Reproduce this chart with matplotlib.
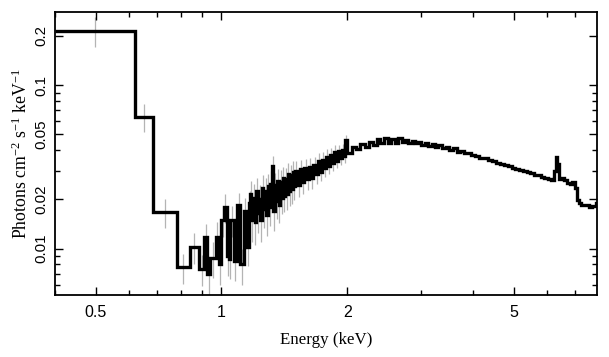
import numpy as np
import matplotlib
matplotlib.use('Agg')
import matplotlib.pyplot as plt
from matplotlib.ticker import FixedLocator, FixedFormatter, LogLocator, NullFormatter

plt.rcParams['mathtext.fontset'] = 'custom'
plt.rcParams['mathtext.rm'] = 'Liberation Serif'
plt.rcParams['mathtext.it'] = 'Liberation Serif:italic'
plt.rcParams['mathtext.default'] = 'rm'

# spectrum bins (keV)
edges_low = [0.40, 0.623, 0.688, 0.781, 0.839, 0.886, 0.911, 0.926]
vals_low = [0.215, 0.064, 0.0167, 0.0077, 0.0102, 0.0075, 0.0117]
errs_low = [0.045, 0.0125, 0.0034, 0.0016, 0.0022, 0.0016, 0.0025]

edges_b = [0.941, 0.968, 0.985, 1.000, 1.012, 1.032, 1.042, 1.051, 1.070,
           1.090, 1.110, 1.130, 1.152, 1.162, 1.173]
vals_b = [0.0070, 0.0088, 0.0117, 0.0080, 0.0150, 0.0179, 0.0090, 0.0086,
          0.0149, 0.0084, 0.0184, 0.0080, 0.0170, 0.0102, 0.0190]
errs_b = [0.0018, 0.0022, 0.0028, 0.0020, 0.0032, 0.0036, 0.0022, 0.0021,
          0.0032, 0.0021, 0.0036, 0.0020, 0.0034, 0.0024, 0.0036]

edges_c = [1.18, 1.19, 1.20, 1.21, 1.22, 1.23, 1.24, 1.25, 1.26, 1.27,
           1.28, 1.29, 1.30, 1.31, 1.32, 1.33, 1.34, 1.35, 1.36, 1.37,
           1.38, 1.39, 1.40, 1.41, 1.42, 1.43, 1.44, 1.45, 1.46, 1.47,
           1.48, 1.49, 1.50,
           1.52, 1.54, 1.56, 1.58, 1.60, 1.62, 1.64, 1.66, 1.68, 1.70,
           1.72, 1.74, 1.76, 1.78, 1.80, 1.82, 1.84, 1.86, 1.88, 1.90,
           1.92, 1.94, 1.96, 1.98, 2.00]
vals_c = [0.0215, 0.0150, 0.0205, 0.0145, 0.0225, 0.0165, 0.0200, 0.0150,
          0.0235, 0.0175, 0.0225, 0.0160, 0.0240, 0.0180, 0.0250, 0.0320,
          0.0170, 0.0245, 0.0195, 0.0260, 0.0185, 0.0255, 0.0205, 0.0270,
          0.0210, 0.0265, 0.0215, 0.0285, 0.0225, 0.0280, 0.0230, 0.0295,
          0.0240,
          0.0300, 0.0245, 0.0305, 0.0255, 0.0310, 0.0265, 0.0315, 0.0270,
          0.0325, 0.0285, 0.0345, 0.0295, 0.0350, 0.0310, 0.0365, 0.0320,
          0.0375, 0.0335, 0.0390, 0.0345, 0.0395, 0.0360, 0.0400, 0.0370,
          0.0460]
errs_c = [0.0044, 0.0040, 0.0045, 0.0040, 0.0046, 0.0041, 0.0045, 0.0040,
          0.0047, 0.0042, 0.0046, 0.0041, 0.0047, 0.0042, 0.0047, 0.0050,
          0.0042, 0.0046, 0.0043, 0.0047, 0.0042, 0.0046, 0.0043, 0.0047,
          0.0043, 0.0046, 0.0043, 0.0047, 0.0043, 0.0046, 0.0043, 0.0046,
          0.0043,
          0.0042, 0.0039, 0.0042, 0.0039, 0.0041, 0.0038, 0.0041, 0.0038,
          0.0040, 0.0037, 0.0040, 0.0037, 0.0039, 0.0036, 0.0039, 0.0036,
          0.0038, 0.0035, 0.0038, 0.0035, 0.0037, 0.0035, 0.0037, 0.0034,
          0.0038]

edges_d = [2.05, 2.10, 2.15, 2.20, 2.25, 2.30, 2.35, 2.40, 2.45, 2.50,
           2.55, 2.60, 2.65, 2.70, 2.75, 2.80, 2.85, 2.90, 2.95, 3.00,
           3.06, 3.12, 3.18, 3.24, 3.30, 3.37, 3.44, 3.51, 3.58, 3.65,
           3.72, 3.80, 3.88, 3.96, 4.04]
vals_d = [0.0385, 0.0420, 0.0405, 0.0435, 0.0420, 0.0450, 0.0430, 0.0470,
          0.0440, 0.0475, 0.0445, 0.0465, 0.0440, 0.0475, 0.0450, 0.0460,
          0.0445, 0.0455, 0.0440, 0.0450, 0.0432, 0.0442, 0.0425, 0.0435,
          0.0418, 0.0428, 0.0410, 0.0418, 0.0402, 0.0410, 0.0392, 0.0398,
          0.0382, 0.0386, 0.0372]

edges_e = [4.14, 4.24, 4.34, 4.44, 4.54, 4.64, 4.74, 4.84, 4.94, 5.04,
           5.15, 5.26, 5.37, 5.48, 5.59, 5.70, 5.81, 5.92, 6.03, 6.14,
           6.24, 6.30, 6.36, 6.42, 6.50, 6.60, 6.70, 6.80, 6.90, 7.00,
           7.08, 7.16, 7.25, 7.40, 7.55, 7.70, 7.85, 8.0]
vals_e = [0.0368, 0.0360, 0.0356, 0.0348, 0.0344, 0.0335, 0.0330, 0.0324,
          0.0320, 0.0313, 0.0308, 0.0302, 0.0298, 0.0292, 0.0289, 0.0283,
          0.0280, 0.0275, 0.0270, 0.0266, 0.0262, 0.0300, 0.0365, 0.0330,
          0.0268, 0.0270, 0.0262, 0.0252, 0.0250, 0.0255, 0.0235, 0.0198,
          0.0190, 0.0185, 0.0184, 0.0180, 0.0182, 0.0190]

edges = np.array(edges_low + edges_b + edges_c + edges_d + edges_e)
vals = np.array(vals_low + vals_b + vals_c + vals_d + vals_e)
errs = np.array(errs_low + errs_b + errs_c)

x_ticks = [0.5, 1, 2, 5]
x_labels = ['0.5', '1', '2', '5']
y_ticks = [0.01, 0.02, 0.05, 0.1, 0.2]
y_labels = ['0.01', '0.02', '0.05', '0.1', '0.2']

fig = plt.figure(figsize=(6.09, 3.57), dpi=100)
ax = fig.add_axes([0.0903, 0.1737, 0.8897, 0.7927])

# error bars first (light grey), then the step spectrum on top
n = len(errs)
centers = np.sqrt(edges[:n] * edges[1:n + 1])
ax.vlines(centers, vals[:n] - errs, vals[:n] + errs, color='#b4b4b4', lw=0.9, zorder=1)
ax.stairs(vals, edges, color='black', lw=2.4, zorder=2, baseline=None)

ax.set_xscale('log')
ax.set_yscale('log')
ax.set_xlim(0.4, 7.9)
ax.set_ylim(0.0052, 0.28)

ax.xaxis.set_major_locator(FixedLocator(x_ticks))
ax.xaxis.set_major_formatter(FixedFormatter(x_labels))
ax.xaxis.set_minor_locator(LogLocator(base=10, subs=np.arange(1, 10) * 1.0, numticks=20))
ax.xaxis.set_minor_formatter(NullFormatter())
ax.yaxis.set_major_locator(FixedLocator(y_ticks))
ax.yaxis.set_major_formatter(FixedFormatter(y_labels))
ax.yaxis.set_minor_locator(LogLocator(base=10, subs=np.arange(1, 10) * 1.0, numticks=20))
ax.yaxis.set_minor_formatter(NullFormatter())

ax.tick_params(which='both', direction='in', top=True, right=True, width=1.0,
               labelfontfamily='Liberation Sans')
ax.tick_params(axis='x', labelsize=11.5, pad=7)
ax.tick_params(axis='y', labelsize=10.8, pad=5)
ax.tick_params(which='major', length=6)
ax.tick_params(which='minor', length=3.5)
for lab in ax.get_yticklabels():
    lab.set_rotation(90)
    lab.set_va('center')
for s in ax.spines.values():
    s.set_linewidth(1.3)

ax.set_xlabel('Energy (keV)', family='Liberation Serif', fontsize=12.2, labelpad=9)
ax.set_ylabel('Photons cm$^{-2}$ s$^{-1}$ keV$^{-1}$', family='Liberation Serif',
              fontsize=12.8, labelpad=2)

fig.savefig('out.png', dpi=100)
